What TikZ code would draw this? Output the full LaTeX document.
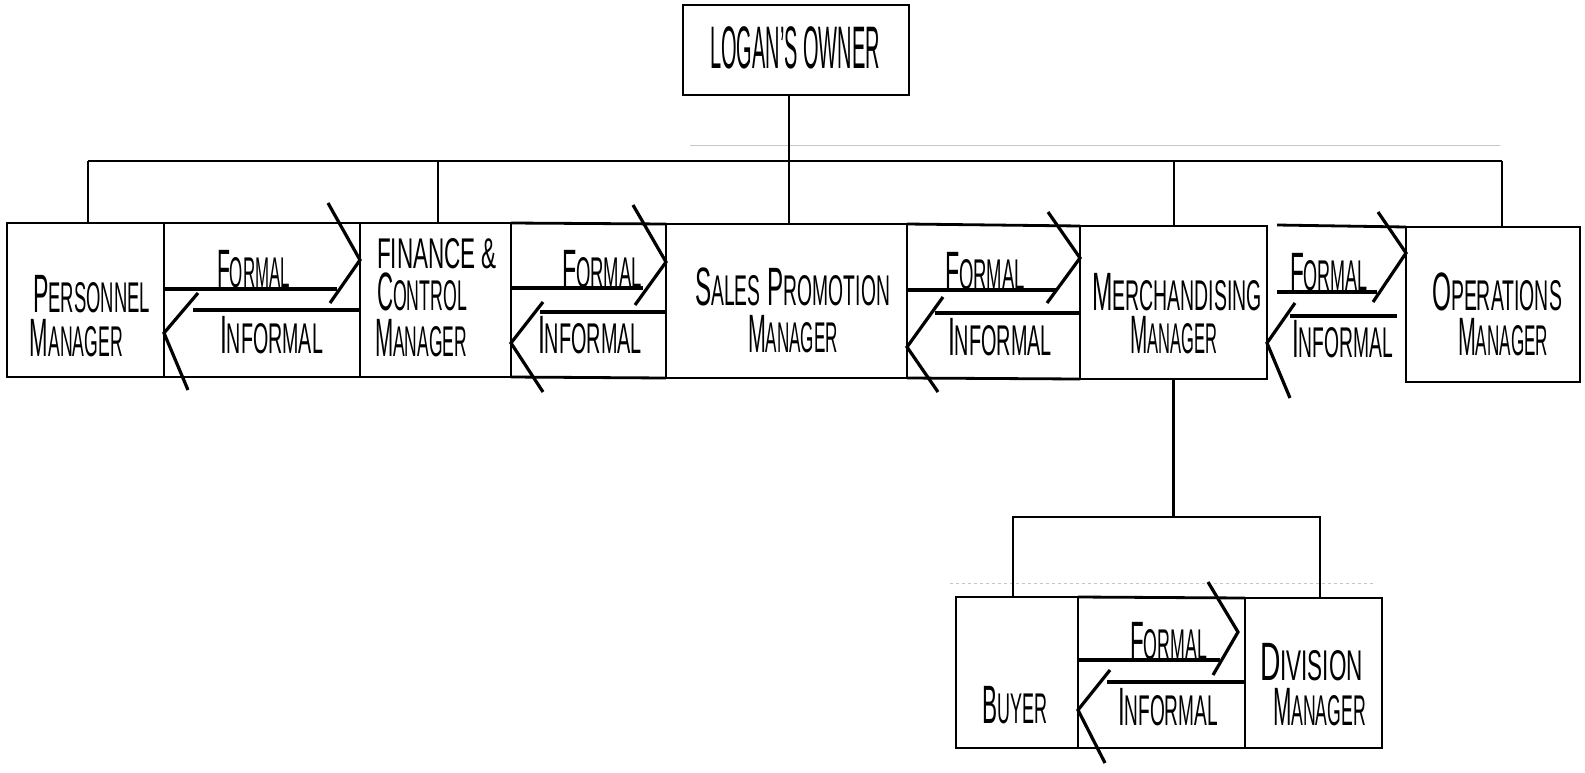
\documentclass[tikz,border=0pt]{standalone}
\usepackage{fontspec}
\setmainfont{Liberation Sans}
\usepackage{graphicx}
\newcommand\fitw[2]{\resizebox{#1pt}{\height}{#2}}
\newcommand\BL[1]{{\fontsize{54}{58}\selectfont #1}}
\newcommand\SL[1]{{\fontsize{43}{48}\selectfont #1}}
\newcommand\Wrd[2]{\BL{#1}\SL{#2}}
\begin{document}
\begin{tikzpicture}[x=1pt,y=-1pt,
  box/.style={draw, line width=2.8pt, inner sep=0pt, outer sep=0pt, anchor=north west},
  lbl/.style={anchor=base west, inner sep=0pt, outer sep=0pt},
  conn/.style={line width=2.8pt},
  shaft/.style={line width=3.2pt},
  head/.style={line width=3.2pt, line join=miter},
  faint/.style={gray!45, line width=0.8pt}]
\fill[white] (0,0) rectangle (1585,772);
\useasboundingbox (0,0) rectangle (1585,772);

% faint ruling lines of the scan
\draw[faint] (690,145) -- (1500,145);
\draw[faint, dashed] (950,583) -- (1375,583);

% boxes
\node[box, minimum width=226pt, minimum height=90pt] (owner) at (683,5) {};
\node[box, minimum width=157pt, minimum height=154pt] (pers) at (7,223) {};
\node[box, minimum width=151pt, minimum height=154pt] (fin) at (360,223) {};
\node[box, minimum width=241pt, minimum height=154pt] (sales) at (666,224) {};
\node[box, minimum width=187pt, minimum height=153pt] (merch) at (1080,226) {};
\node[box, minimum width=174pt, minimum height=155pt] (ops) at (1406,227) {};
\node[box, minimum width=122pt, minimum height=151pt] (buyer) at (956,597) {};
\node[box, minimum width=137pt, minimum height=150pt] (div) at (1245,598) {};

% box texts
\node[lbl] (tOwner) at (710,68) {\fitw{170}{{\fontsize{60}{64}\selectfont LOGAN'S OWNER}}};
\node[lbl] (tPers1) at (33,312) {\fitw{117}{\Wrd{P}{ERSONNEL}}};
\node[lbl] (tPers2) at (30,356) {\fitw{93}{\Wrd{M}{ANAGER}}};
\node[lbl] (tFin1) at (377,268) {\fitw{120}{\SL{FINANCE \&}}};
\node[lbl] (tFin2) at (377,310) {\fitw{90}{\Wrd{C}{ONTROL}}};
\node[lbl] (tFin3) at (375,356) {\fitw{92}{\Wrd{M}{ANAGER}}};
\node[lbl] (tSal1) at (695,305) {\fitw{195}{\Wrd{S}{ALES}\hspace{16pt}\Wrd{P}{ROMOTION}}};
\node[lbl] (tSal2) at (748,352) {\fitw{90}{\Wrd{M}{ANAGER}}};
\node[lbl] (tMer1) at (1092,310) {\fitw{170}{\Wrd{M}{ERCHANDISING}}};
\node[lbl] (tMer2) at (1130,353) {\fitw{87}{\Wrd{M}{ANAGER}}};
\node[lbl] (tOps1) at (1432,310) {\fitw{130}{\Wrd{O}{PERATIONS}}};
\node[lbl] (tOps2) at (1458,355) {\fitw{90}{\Wrd{M}{ANAGER}}};
\node[lbl] (tBuy) at (982,723) {\fitw{65}{\Wrd{B}{UYER}}};
\node[lbl] (tDiv1) at (1260,680) {\fitw{103}{\Wrd{D}{IVISION}}};
\node[lbl] (tDiv2) at (1273,725) {\fitw{93}{\Wrd{M}{ANAGER}}};

% hierarchy lines
\coordinate (bP) at (88,161);
\coordinate (bF) at (438,161);
\coordinate (bS) at (789,161);
\coordinate (bM) at (1174,161);
\coordinate (bO) at (1502,161);
\draw[conn] (bP) -- (bO);
\draw[conn] (bS |- owner.south) -- (bS |- sales.north);
\draw[conn] (bP) -- (bP |- pers.north);
\draw[conn] (bF) -- (bF |- fin.north);
\draw[conn] (bM) -- (bM |- merch.north);
\draw[conn] (bO) -- (bO |- ops.north);

\coordinate (bl) at (1013,517);
\coordinate (br) at (1320,517);
\draw[conn] (merch.south) -- (merch.south |- bl);
\draw[conn] (bl |- buyer.north) -- (bl) -- (br) -- (br |- div.north);

% channel outlines
\draw[conn] (pers.north east) -- (fin.north west);
\draw[conn] (pers.south east) -- (fin.south west);
\draw[conn] (fin.north east) -- (sales.north west);
\draw[conn] (fin.south east) -- (sales.south west);
\draw[conn] (sales.north east) -- (merch.north west);
\draw[conn] (sales.south east) -- (merch.south west);
\coordinate (moT) at (1277,225);
\draw[conn] (moT) -- (ops.north west);
\draw[conn] (buyer.north east) -- (div.north west);
\draw[conn] (buyer.south east) -- (div.south west);

% Personnel <-> Finance
\coordinate (f1e) at (337,289);
\draw[shaft] (pers.east |- f1e) -- (f1e);
\draw[head] (328,203) -- (fin.west |- 0,260) -- (330,303);
\coordinate (i1s) at (193,310);
\draw[shaft] (i1s) -- (fin.west |- i1s);
\draw[head] (198,293) -- (pers.east |- 0,333) -- (188,390);
\node[lbl] (fo1) at (217,287) {\fitw{73}{\Wrd{F}{ORMAL}}};
\node[lbl] (in1) at (220,353) {\fitw{103}{\Wrd{I}{NFORMAL}}};

% Finance <-> Sales
\coordinate (f2e) at (643,288);
\draw[shaft] (fin.east |- f2e) -- (f2e);
\draw[head] (633,205) -- (sales.west |- 0,262) -- (635,305);
\coordinate (i2s) at (540,312);
\draw[shaft] (i2s) -- (sales.west |- i2s);
\draw[head] (543,302) -- (fin.east |- 0,343) -- (543,392);
\node[lbl] (fo2) at (562,287) {\fitw{80}{\Wrd{F}{ORMAL}}};
\node[lbl] (in2) at (538,353) {\fitw{104}{\Wrd{I}{NFORMAL}}};

% Sales <-> Merchandising
\coordinate (f3e) at (1057,290);
\draw[shaft] (sales.east |- f3e) -- (f3e);
\draw[head] (1048,212) -- (merch.west |- 0,258) -- (1047,303);
\coordinate (i3s) at (935,313);
\draw[shaft] (i3s) -- (merch.west |- i3s);
\draw[head] (943,297) -- (sales.east |- 0,347) -- (938,392);
\node[lbl] (fo3) at (945,289) {\fitw{80}{\Wrd{F}{ORMAL}}};
\node[lbl] (in3) at (948,355) {\fitw{104}{\Wrd{I}{NFORMAL}}};

% Merchandising <-> Operations
\coordinate (f4s) at (1277,292);
\coordinate (f4e) at (1377,292);
\draw[shaft] (f4s) -- (f4e);
\draw[head] (1378,212) -- (ops.west |- 0,253) -- (1373,302);
\coordinate (i4s) at (1290,316);
\coordinate (i4e) at (1397,316);
\draw[shaft] (i4s) -- (i4e);
\draw[head] (1295,303) -- (merch.east |- 0,343) -- (1290,398);
\node[lbl] (fo4) at (1290,290) {\fitw{78}{\Wrd{F}{ORMAL}}};
\node[lbl] (in4) at (1292,357) {\fitw{101}{\Wrd{I}{NFORMAL}}};

% Buyer <-> Division Manager
\coordinate (f5e) at (1220,660);
\draw[shaft] (buyer.east |- f5e) -- (f5e);
\draw[head] (1208,582) -- (1238,632) -- (1213,675);
\coordinate (i5s) at (1107,682);
\draw[shaft] (i5s) -- (div.west |- i5s);
\draw[head] (1110,670) -- (buyer.east |- 0,710) -- (1105,763);
\node[lbl] (fo5) at (1130,659) {\fitw{77}{\Wrd{F}{ORMAL}}};
\node[lbl] (in5) at (1118,725) {\fitw{100}{\Wrd{I}{NFORMAL}}};
\end{tikzpicture}
\end{document}
